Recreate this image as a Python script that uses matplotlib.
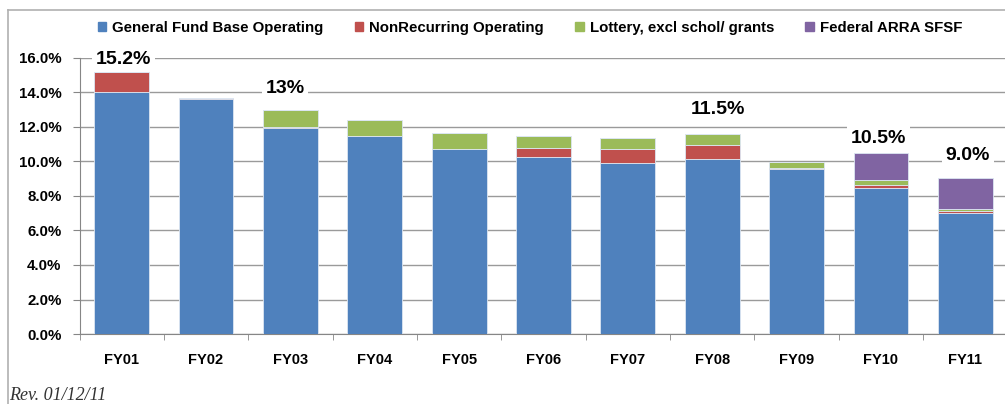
import matplotlib
matplotlib.use("Agg")
import matplotlib.pyplot as plt
from matplotlib.lines import Line2D
from matplotlib.patches import Rectangle

categories = ["FY01", "FY02", "FY03", "FY04", "FY05", "FY06", "FY07", "FY08", "FY09", "FY10", "FY11"]
general_fund = [14.0, 13.6, 11.95, 11.45, 10.75, 10.25, 9.9, 10.14, 9.55, 8.48, 7.03]
nonrecurring = [1.2, 0.08, 0.05, 0.0, 0.0, 0.55, 0.82, 0.8, 0.09, 0.18, 0.08]
lottery = [0.0, 0.0, 1.0, 0.95, 0.9, 0.7, 0.62, 0.64, 0.33, 0.25, 0.15]
federal_arra = [0.0, 0.0, 0.0, 0.0, 0.0, 0.0, 0.0, 0.0, 0.0, 1.6, 1.8]
series_names = ["General Fund Base Operating", "NonRecurring Operating",
                "Lottery, excl schol/ grants", "Federal ARRA SFSF"]
colors = ["#4F81BD", "#C0504D", "#9BBB59", "#8064A2"]
yticks = [0, 2, 4, 6, 8, 10, 12, 14, 16]
callout_labels = ["15.2%", "13%", "11.5%", "10.5%", "9.0%"]
callout_x = [0.02, 1.94, 7.07, 8.97, 10.03]
callout_y = [15.94, 14.26, 13.04, 11.36, 10.32]

plt.rcParams['font.family'] = ['Liberation Sans', 'DejaVu Sans']

fig = plt.figure(figsize=(10.05, 4.04), dpi=100)
W, H = 1005, 404
ax = fig.add_axes([79.5 / W, 1 - 334 / H, (1005 - 79.5) / W, (334 - 58) / H])

x = list(range(len(categories)))
bottom = [0.0] * len(categories)
for vals, c in zip([general_fund, nonrecurring, lottery, federal_arra], colors):
    ax.bar(x, vals, width=0.65, bottom=bottom, color=c, edgecolor="#dce6f2",
           linewidth=0.6, zorder=3)
    bottom = [b + v for b, v in zip(bottom, vals)]

ax.set_ylim(0, 16)
ax.set_xlim(-0.5, 10.47)
ax.set_yticks(yticks)
ax.set_yticklabels([f"{t:.1f}%" for t in yticks], fontsize=10.8, fontweight="bold")
ax.yaxis.grid(True, color="#9a9a9a", linewidth=1.0, zorder=0)
ax.set_axisbelow(True)

ax.set_xticks(x)
ax.set_xticklabels(categories, fontsize=10.5, fontweight="bold")
ax.tick_params(axis="x", length=0, pad=14)
ax.set_xticks([i + 0.5 for i in x[:-1]] + [-0.5], minor=True)
ax.tick_params(axis="x", which="minor", length=4, color="#868686", direction="out")
ax.tick_params(axis="y", length=5, color="#868686", direction="out", pad=8)

for s in ["top", "right"]:
    ax.spines[s].set_visible(False)
ax.spines["left"].set_color("#868686")
ax.spines["bottom"].set_color("#868686")

for lab, cx, cy in zip(callout_labels, callout_x, callout_y):
    ax.text(cx, cy, lab, ha="center", va="center", fontsize=14, fontweight="bold",
            zorder=5, bbox=dict(facecolor="white", edgecolor="none", pad=2.5))

# legend
handles = [Rectangle((0, 0), 1, 1, color=c) for c in colors]
fig.legend(handles, series_names, loc="center", bbox_to_anchor=(530 / W, 1 - 28 / H),
           ncol=4, frameon=False, prop=dict(weight="bold", size=10.8),
           handlelength=0.55, handleheight=0.55, handletextpad=0.4, columnspacing=2.1)

# chart border (top and left)
fig.add_artist(Line2D([8 / W, 1.0], [1 - 10 / H, 1 - 10 / H], color="#b0b0b0", linewidth=1.2))
fig.add_artist(Line2D([8 / W, 8 / W], [1 - 10 / H, 0.0], color="#b0b0b0", linewidth=1.2))

fig.text(9 / W, 1 - 396 / H, "Rev. 01/12/11", fontsize=13, style="italic",
         family=["Liberation Serif", "DejaVu Serif"], va="center", ha="left", color="#333333")

fig.savefig("out.png", dpi=100)
